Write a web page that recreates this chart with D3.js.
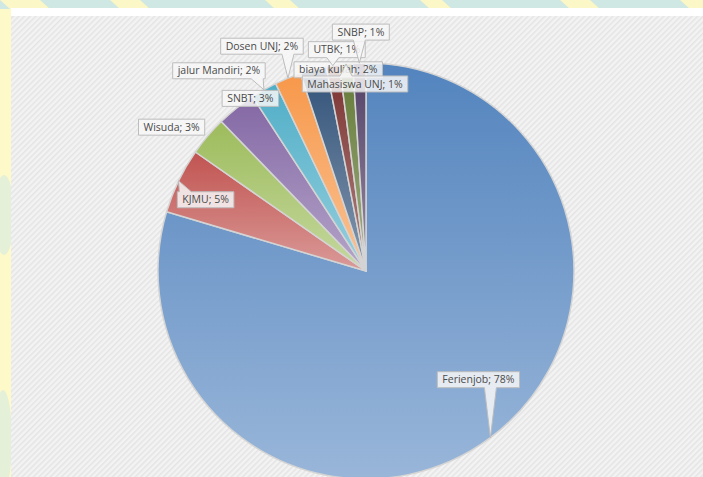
<!DOCTYPE html>
<html lang="en">
<head>
  <title>pie ferienjob</title>
  <script type="text/javascript" src="https://cdnjs.cloudflare.com/ajax/libs/d3/7.8.5/d3.min.js"></script>
  <style>
    body { margin: 0; overflow: hidden; }
    svg { display: block; }
  </style>
</head>
<body>
  <script type="text/javascript">
    var categories = ["Ferienjob", "KJMU", "Wisuda", "SNBT", "jalur Mandiri", "Dosen UNJ",
                      "biaya kuliah", "UTBK", "Mahasiswa UNJ", "SNBP"];
    var values = [78, 5, 3, 3, 2, 2, 2, 1, 1, 1];
    var colors = ["#4F81BD", "#C0504D", "#9BBB59", "#8064A2", "#4BACC6", "#F79646",
                  "#2C4D75", "#772C2A", "#5F7530", "#4D3B62"];

    // where each callout box sits, relative to the slice's outer midpoint
    var labelShift = [[-12, -58], [27, 19], [-36, -9], [14, -10], [-45, -19], [-26, -32],
                      [25, 0], [4, -16], [9, 20], [1.5, -31]];

    var width = 703, height = 477;
    var cx = 366, cy = 271, radius = 208;

    var svg = d3.select("body").append("svg")
      .attr("width", width)
      .attr("height", height);

    var defs = svg.append("defs");

    // hatch for the plot panel
    var hatch = defs.append("pattern")
      .attr("id", "hatch")
      .attr("patternUnits", "userSpaceOnUse")
      .attr("width", 4).attr("height", 4)
      .attr("patternTransform", "rotate(-45)");
    hatch.append("rect").attr("width", 4).attr("height", 4).attr("fill", "#f3f3f3");
    hatch.append("rect").attr("width", 4).attr("height", 1.5).attr("fill", "#e4e4e4");

    // page backdrop (watermark colours)
    svg.append("rect").attr("width", width).attr("height", height).attr("fill", "#fdf9c9");
    svg.append("rect").attr("width", width).attr("height", 9).attr("fill", "#cfe8e3");
    var bands = [[0, 40], [110, 30], [265, 25], [420, 22], [560, 30], [680, 30]];
    svg.selectAll("polygon.band").data(bands).enter().append("polygon")
      .attr("class", "band")
      .attr("fill", "#fbf7c6")
      .attr("points", function (d) {
        return [[d[0], 0], [d[0] + d[1], 0], [d[0] + d[1] + 10, 9], [d[0] + 10, 9]].join(" ");
      });
    var blobs = [[4, 215, 10, 40], [3, 440, 9, 50]];
    svg.selectAll("ellipse.blob").data(blobs).enter().append("ellipse")
      .attr("class", "blob")
      .attr("cx", function (d) { return d[0]; })
      .attr("cy", function (d) { return d[1]; })
      .attr("rx", function (d) { return d[2]; })
      .attr("ry", function (d) { return d[3]; })
      .attr("fill", "#d3e9e2").attr("opacity", 0.6);

    // chart panel
    svg.append("rect").attr("x", 11).attr("y", 8).attr("width", width - 11).attr("height", height - 8)
      .attr("fill", "#ffffff");
    svg.append("rect").attr("x", 11).attr("y", 16).attr("width", width - 11).attr("height", height - 16)
      .attr("fill", "url(#hatch)");

    // slice gradients
    colors.forEach(function (c, i) {
      var g = defs.append("linearGradient")
        .attr("id", "grad" + i)
        .attr("x1", 0).attr("y1", 0).attr("x2", 0).attr("y2", 1);
      g.append("stop").attr("offset", "0%").attr("stop-color", d3.interpolateRgb(c, "#fff")(0.02));
      g.append("stop").attr("offset", "100%").attr("stop-color", d3.interpolateRgb(c, "#fff")(0.42));
    });

    var pie = d3.pie().sort(null).value(function (d) { return d; });
    var arcs = pie(values);
    var arc = d3.arc().innerRadius(0).outerRadius(radius);

    var g = svg.append("g").attr("transform", "translate(" + cx + "," + cy + ")");

    g.selectAll("path.slice")
      .data(arcs)
      .enter()
      .append("path")
      .attr("class", "slice")
      .attr("d", arc)
      .attr("fill", function (d, i) { return "url(#grad" + i + ")"; })
      .attr("stroke", "#d4d4d4")
      .attr("stroke-width", 1.5)
      .attr("stroke-linejoin", "round");

    function tipOf(d) {
      var a = (d.startAngle + d.endAngle) / 2;
      return [radius * Math.sin(a), -radius * Math.cos(a)];
    }

    // callout outline: box plus pointer toward the tip
    function callout(l, t, r, b, tx, ty) {
      var bw = 12;
      var near = tx > l - 6 && tx < r + 6 && ty > t - 6 && ty < b + 6;
      if (near) {
        return "M" + l + "," + t + "H" + r + "V" + b + "H" + l + "Z";
      }
      var m;
      if (ty > b) {
        m = Math.max(l + bw / 2 + 2, Math.min(r - bw / 2 - 2, tx));
        return "M" + l + "," + t + "H" + r + "V" + b + "H" + (m + bw / 2) +
          "L" + tx + "," + ty + "L" + (m - bw / 2) + "," + b + "H" + l + "Z";
      }
      if (ty < t) {
        m = Math.max(l + bw / 2 + 2, Math.min(r - bw / 2 - 2, tx));
        return "M" + l + "," + t + "H" + (m - bw / 2) + "L" + tx + "," + ty +
          "L" + (m + bw / 2) + "," + t + "H" + r + "V" + b + "H" + l + "Z";
      }
      m = Math.max(t + 3, Math.min(b - 3, ty));
      if (tx < l) {
        return "M" + l + "," + t + "H" + r + "V" + b + "H" + l + "V" + (m + 4) +
          "L" + tx + "," + ty + "L" + l + "," + (m - 4) + "Z";
      }
      return "M" + l + "," + t + "H" + r + "V" + (m - 4) + "L" + tx + "," + ty +
        "L" + r + "," + (m + 4) + "V" + b + "H" + l + "Z";
    }

    var labels = g.selectAll("g.label")
      .data(arcs)
      .enter()
      .append("g")
      .attr("class", "label");

    labels.each(function (d, i) {
      var sel = d3.select(this);
      var tip = tipOf(d);
      var lx = tip[0] + labelShift[i][0];
      var ly = tip[1] + labelShift[i][1];
      var shape = sel.append("path");
      var txt = sel.append("text")
        .attr("x", lx)
        .attr("y", ly)
        .attr("dy", "0.35em")
        .attr("text-anchor", "middle")
        .attr("font-family", "'Open Sans', 'Liberation Sans', sans-serif")
        .attr("font-size", "10.5px")
        .attr("fill", "#4a4a4a")
        .text(categories[i] + "; " + values[i] + "%");
      var w = txt.node().getComputedTextLength();
      var l = lx - w / 2 - 5, r = lx + w / 2 + 5, t = ly - 8, b = ly + 8;
      shape.attr("d", callout(l, t, r, b, tip[0], tip[1]))
        .attr("fill", "#f7f7f7")
        .attr("fill-opacity", 0.85)
        .attr("stroke", "#bdbdbd")
        .attr("stroke-width", 1);
    });
  </script>
</body>
</html>
